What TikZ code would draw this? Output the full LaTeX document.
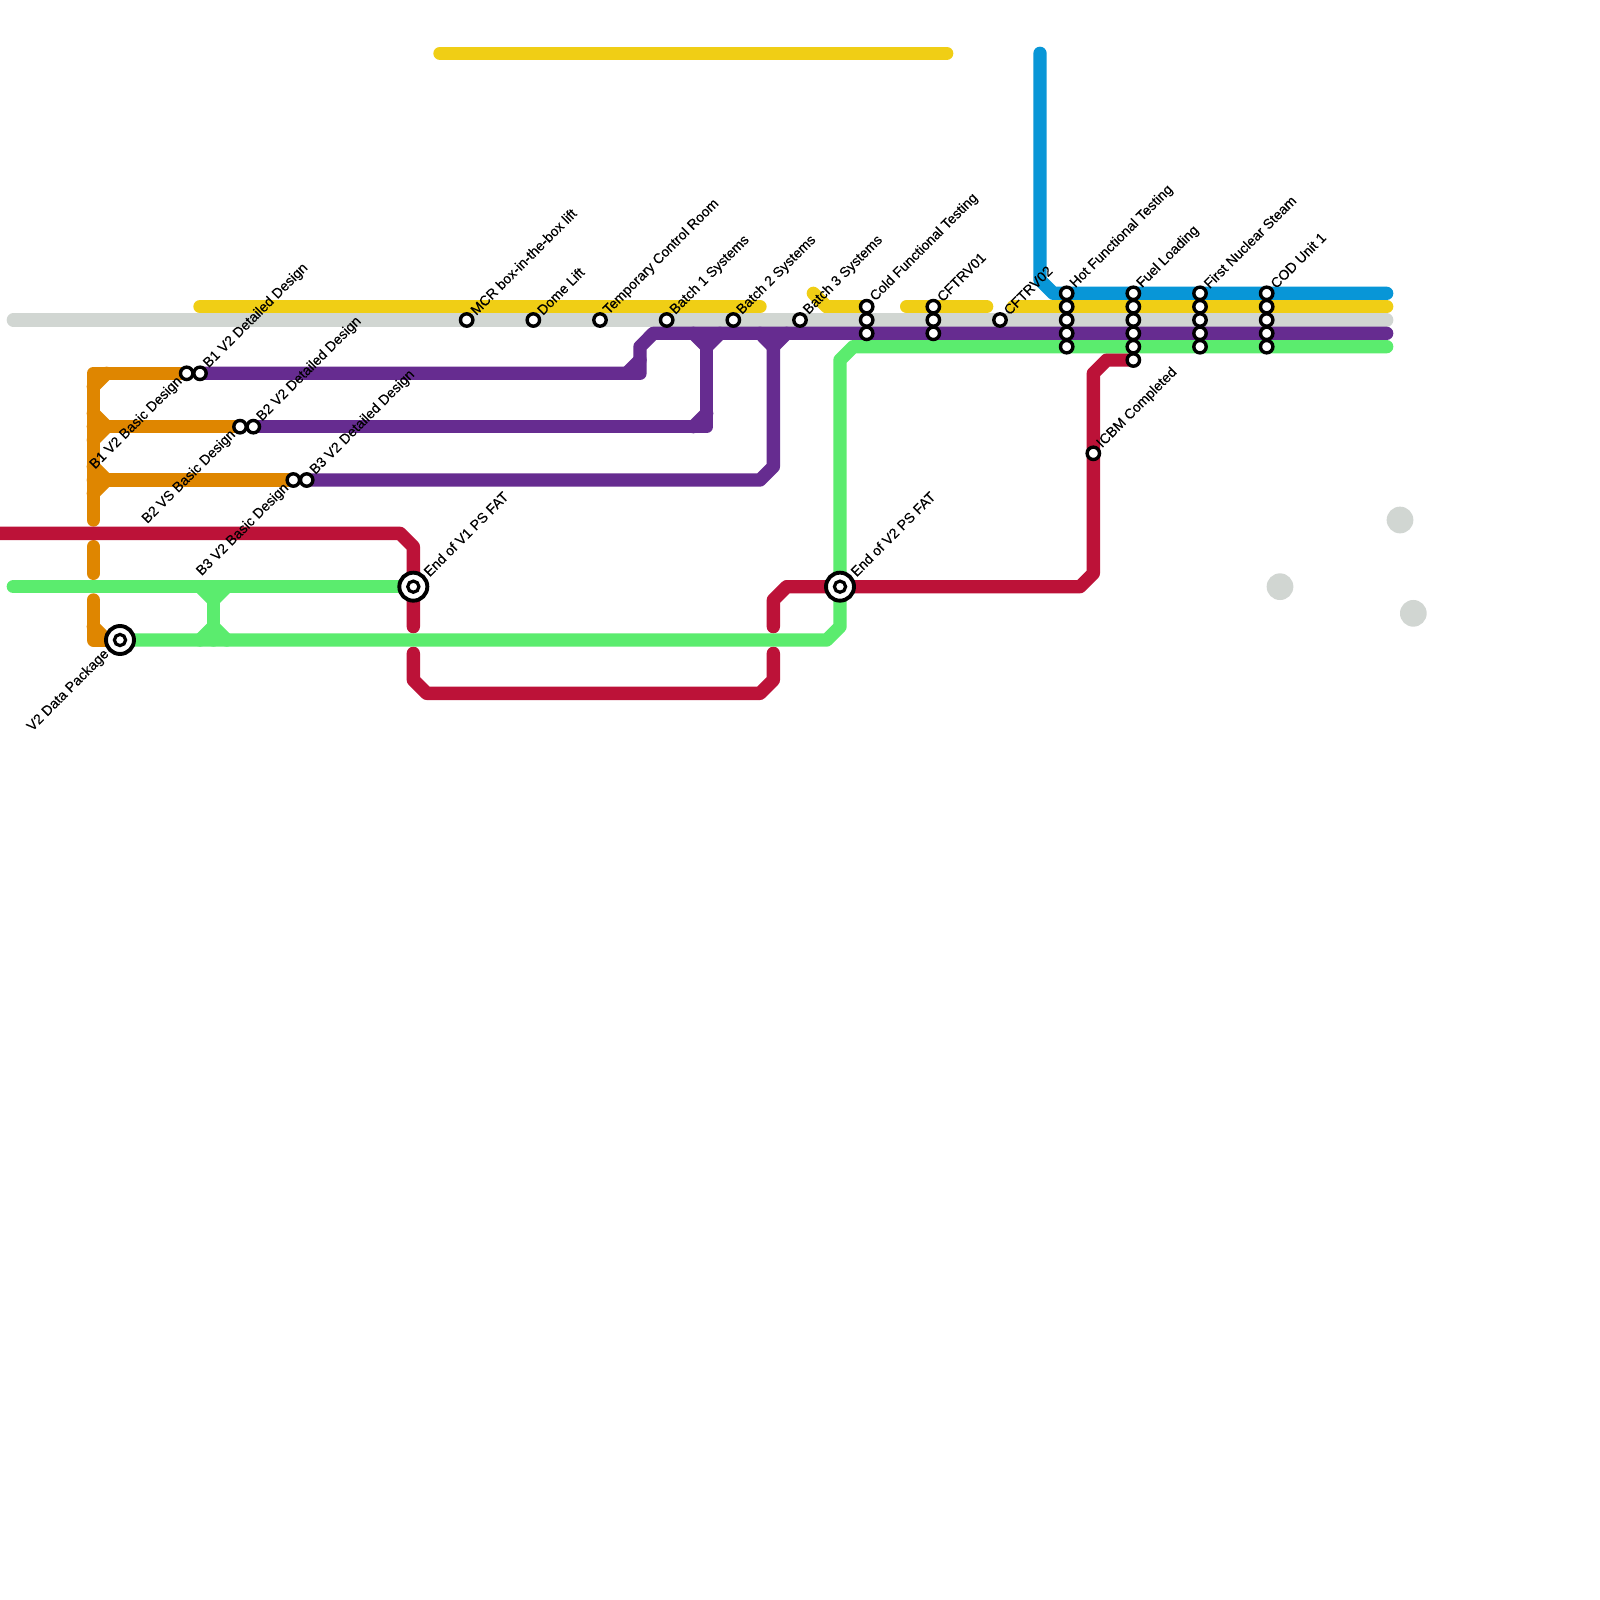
\documentclass[tikz,border=0pt]{standalone}
\usepackage{fontspec}
\setmainfont{Liberation Sans}
\usetikzlibrary{backgrounds,calc}
\definecolor{cgray}{HTML}{D1D6D2}
\definecolor{cyellow}{HTML}{F0CE15}
\definecolor{cpurple}{HTML}{662C90}
\definecolor{cgreen}{HTML}{5BEC6E}
\definecolor{cred}{HTML}{BC1238}
\definecolor{corange}{HTML}{DF8600}
\definecolor{cblue}{HTML}{0896D7}
\tikzset{
  x=1pt,y=-1pt,
  metro/.style={line width=13.33pt,line cap=round,line join=round},
  stn/.style={circle,draw=black,fill=white,line width=3.4pt,minimum size=12.4pt,inner sep=0pt},
  hub/.style={circle,draw=black,fill=white,line width=3.9pt,minimum size=28pt,inner sep=0pt},
  hubin/.style={circle,draw=black,fill=white,line width=3.2pt,minimum size=11.2pt,inner sep=0pt},
  lblr/.style={rotate=45,anchor=west,inner sep=0pt,font=\fontsize{14pt}{15pt}\selectfont\addfontfeature{FakeBold=0.3}},
  lbll/.style={rotate=45,anchor=east,inner sep=0pt,font=\fontsize{14pt}{15pt}\selectfont\addfontfeature{FakeBold=0.3}},
  ghost/.style={circle,fill=cgray,draw=none,minimum size=26.7pt,inner sep=0pt}
}
\newcommand{\stR}[4]{\node[stn] (#1) at (#2,#3) {}; \node[lblr] (#1t) at (#2+6,#3-7.5) {#4};}
\newcommand{\stL}[4]{\node[stn] (#1) at (#2,#3) {}; \node[lbll] (#1t) at (#2-6.5,#3+6) {#4};}
\newcommand{\stN}[3]{\node[stn] (#1) at (#2,#3) {};}
\begin{document}
\begin{tikzpicture}
\useasboundingbox (0,0) rectangle (1600,1600);
% stations
\stL{boneb}{186.67}{373.33}{B1 V2 Basic Design}
\stR{boned}{200}{373.33}{B1 V2 Detailed Design}
\stL{btwob}{240}{426.67}{B2 VS Basic Design}
\stR{btwod}{253.33}{426.67}{B2 V2 Detailed Design}
\stL{bthrb}{293.33}{480}{B3 V2 Basic Design}
\stR{bthrd}{306.67}{480}{B3 V2 Detailed Design}
\stR{mcr}{466.67}{320}{MCR box-in-the-box lift}
\stR{dome}{533.33}{320}{Dome Lift}
\stR{tcr}{600}{320}{Temporary Control Room}
\stR{bsa}{666.67}{320}{Batch 1 Systems}
\stR{bsb}{733.33}{320}{Batch 2 Systems}
\stR{bsc}{800}{320}{Batch 3 Systems}
\stR{cft}{866.67}{306.67}{Cold Functional Testing}
\stN{cftb}{866.67}{320}
\stN{cftc}{866.67}{333.33}
\stR{cfa}{933.33}{306.67}{CFTRV01}
\stN{cfab}{933.33}{320}
\stN{cfac}{933.33}{333.33}
\stR{cfb}{1000}{320}{CFTRV02}
\stR{hft}{1066.67}{293.33}{Hot Functional Testing}
\stN{hftb}{1066.67}{306.67}
\stN{hftc}{1066.67}{320}
\stN{hftd}{1066.67}{333.33}
\stN{hfte}{1066.67}{346.67}
\stR{fl}{1133.33}{293.33}{Fuel Loading}
\stN{flb}{1133.33}{306.67}
\stN{flc}{1133.33}{320}
\stN{fld}{1133.33}{333.33}
\stN{fle}{1133.33}{346.67}
\stN{flf}{1133.33}{360}
\stR{fns}{1200}{293.33}{First Nuclear Steam}
\stN{fnsb}{1200}{306.67}
\stN{fnsc}{1200}{320}
\stN{fnsd}{1200}{333.33}
\stN{fnse}{1200}{346.67}
\stR{cod}{1266.67}{293.33}{COD Unit 1}
\stN{codb}{1266.67}{306.67}
\stN{codc}{1266.67}{320}
\stN{codd}{1266.67}{333.33}
\stN{code}{1266.67}{346.67}
\stR{icbm}{1093.33}{453.33}{ICBM Completed}
% interchanges
\node[hub] (vone) at (413.33,586.67) {};
\node[hubin] (voneb) at (413.33,586.67) {};
\node[lblr] (vonet) at (426,574) {End of V1 PS FAT};
\node[hub] (vtwo) at (840,586.67) {};
\node[hubin] (vtwob) at (840,586.67) {};
\node[lblr] (vtwot) at (853,574) {End of V2 PS FAT};
\node[hub] (vdp) at (120,640) {};
\node[hubin] (vdpb) at (120,640) {};
\node[lbll] (vdpt) at (107,652) {V2 Data Package};
% leftover dots
\node[ghost] (ga) at (1400,520) {};
\node[ghost] (gb) at (1280,586.67) {};
\node[ghost] (gc) at (1413.33,613.33) {};
\begin{scope}[on background layer]
\fill[white] (0,0) rectangle (1600,1600);
% orange
\draw[metro,corange] (boneb.center) -- (93.33,373.33) -- (93.33,520);
\draw[metro,corange] (106.67,373.33) -- (93.33,386.67);
\draw[metro,corange] (93.33,413.33) -- (106.67,426.67) -- (93.33,440);
\draw[metro,corange] (btwob.center) -- (93.33,426.67);
\draw[metro,corange] (93.33,466.67) -- (106.67,480) -- (93.33,493.33);
\draw[metro,corange] (bthrb.center) -- (93.33,480);
\draw[metro,corange] (93.33,546.67) -- (93.33,573.33);
\draw[metro,corange] (93.33,600) -- (93.33,640) -- (vdp.center);
\draw[metro,corange] (93.33,626.67) -- (106.67,640);
% yellow
\draw[metro,cyellow] (440,53.33) -- (946.67,53.33);
\draw[metro,cyellow] (200,306.67) -- (760,306.67);
\draw[metro,cyellow] (813.33,293.33) -- (826.67,306.67) -- (cft.center);
\draw[metro,cyellow] (906.67,306.67) -- (986.67,306.67);
\draw[metro,cyellow] (1013.33,306.67) -- (1386.67,306.67);
% gray
\draw[metro,cgray] (13.33,320) -- (1386.67,320);
% blue
\draw[metro,cblue] (1040,53.33) -- (1040,280) -- (1053.33,293.33) -- (1386.67,293.33);
% red
\draw[metro,cred] (0,533.33) -- (400,533.33) -- (413.33,546.67) -- (413.33,626.67);
\draw[metro,cred] (413.33,653.33) -- (413.33,680) -- (426.67,693.33) -- (760,693.33) -- (773.33,680) -- (773.33,653.33);
\draw[metro,cred] (773.33,626.67) -- (773.33,600) -- (786.67,586.67) -- (1080,586.67) -- (1093.33,573.33) -- (1093.33,373.33) -- (1106.67,360) -- (flf.center);
% purple
\draw[metro,cpurple] (boned.center) -- (640,373.33) -- (640,346.67) -- (653.33,333.33) -- (1386.67,333.33);
\draw[metro,cpurple] (626.67,373.33) -- (640,360);
\draw[metro,cpurple] (btwod.center) -- (706.67,426.67) -- (706.67,346.67);
\draw[metro,cpurple] (693.33,426.67) -- (706.67,413.33);
\draw[metro,cpurple] (693.33,333.33) -- (706.67,346.67) -- (720,333.33);
\draw[metro,cpurple] (bthrd.center) -- (760,480) -- (773.33,466.67) -- (773.33,346.67);
\draw[metro,cpurple] (760,333.33) -- (773.33,346.67) -- (786.67,333.33);
% green
\draw[metro,cgreen] (13.33,586.67) -- (vone.center);
\draw[metro,cgreen] (213.33,586.67) -- (213.33,640);
\draw[metro,cgreen] (200,586.67) -- (213.33,600) -- (226.67,586.67);
\draw[metro,cgreen] (200,640) -- (213.33,626.67) -- (226.67,640);
\draw[metro,cgreen] (vdp.center) -- (826.67,640) -- (840,626.67) -- (840,360) -- (853.33,346.67) -- (1386.67,346.67);
\end{scope}
\end{tikzpicture}
\end{document}
